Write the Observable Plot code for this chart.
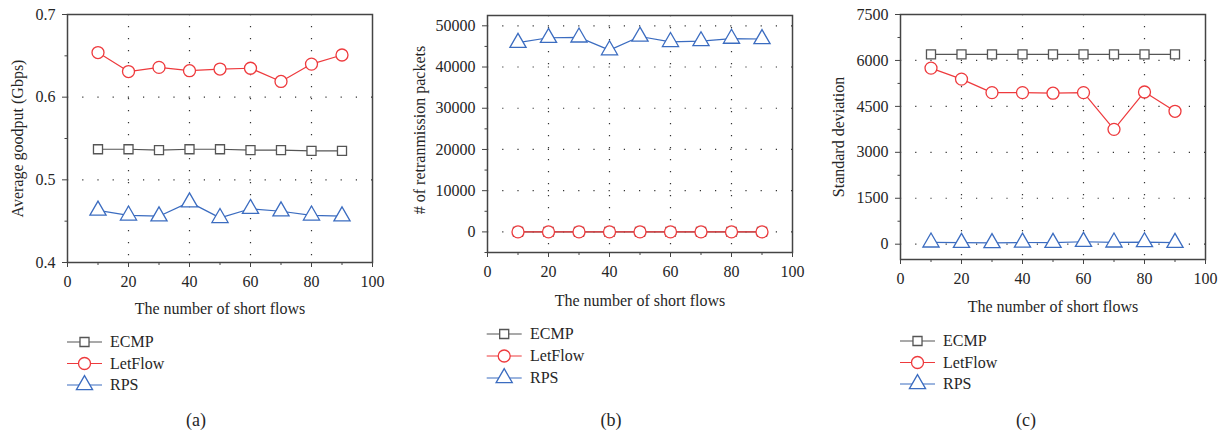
<!DOCTYPE html>
<html><head><meta charset="utf-8">
<script src="https://cdn.jsdelivr.net/npm/d3@7"></script>
<script src="https://cdn.jsdelivr.net/npm/@observablehq/plot@0.6"></script>
<style>
body{margin:0;background:#fff;}
#root{position:relative;width:1221px;height:434px;overflow:hidden;background:#fff;}
#root svg{position:absolute;overflow:visible;}
</style></head><body><div id="root"></div>
<script>
// ---- data ----
const flows = [10, 20, 30, 40, 50, 60, 70, 80, 90];
const seriesNames = ["ECMP", "LetFlow", "RPS"];

const goodputECMP    = [0.537, 0.537, 0.536, 0.537, 0.537, 0.536, 0.536, 0.535, 0.535];
const goodputLetFlow = [0.654, 0.631, 0.636, 0.632, 0.634, 0.635, 0.619, 0.640, 0.651];
const goodputRPS     = [0.463, 0.457, 0.456, 0.473, 0.454, 0.465, 0.462, 0.457, 0.456];

const retransECMP    = [0, 0, 0, 0, 0, 0, 0, 0, 0];
const retransLetFlow = [0, 0, 0, 0, 0, 0, 0, 0, 0];
const retransRPS     = [45900, 47100, 47200, 44100, 47400, 46100, 46300, 46900, 46800];

const stdECMP    = [6200, 6200, 6200, 6200, 6200, 6200, 6200, 6200, 6200];
const stdLetFlow = [5750, 5390, 4950, 4950, 4930, 4950, 3750, 4970, 4340];
const stdRPS     = [60, 50, 40, 55, 50, 80, 60, 70, 50];

const xTicks = [0, 20, 40, 60, 80, 100];
const xMinorTicks = [10, 30, 50, 70, 90];
const goodputTicks = [0.4, 0.5, 0.6, 0.7];
const goodputMinor = [0.45, 0.55, 0.65];
const retransTicks = [0, 10000, 20000, 30000, 40000, 50000];
const retransMinor = [-5000, 5000, 15000, 25000, 35000, 45000];
const stdTicks = [0, 1500, 3000, 4500, 6000, 7500];
const stdMinor = [750, 2250, 3750, 5250, 6750];

const xTitle = "The number of short flows";
const captions = ["(a)", "(b)", "(c)"];

// ---- styles ----
const FONT = '"Liberation Serif", "DejaVu Serif", serif';
const TEXT = "#262626";
const FS = 16;
const colors = ["#555555", "#ee3a3d", "#3b6cc0"];
const symbols = ["square", "circle", "triangle"];
const radii = [5.1, 6, 6];

const root = document.getElementById("root");

function panel(cfg) {
  const vals = cfg.values;
  const marks = [
    Plot.gridX([20, 40, 60, 80], {stroke: "#333", strokeOpacity: 1, strokeWidth: 1.2, strokeDasharray: "1.2,10.8"}),
    Plot.gridY(cfg.grid, {stroke: "#333", strokeOpacity: 1, strokeWidth: 1.2, strokeDasharray: "1.2,14"}),
    Plot.axisX(xMinorTicks, {tickSize: 3, tickFormat: () => "", label: null, stroke: "#444"}),
    Plot.axisX(xTicks, {tickSize: 5, tickPadding: 8, tickFormat: d => String(d), label: null, stroke: "#444", fontSize: FS, fill: TEXT}),
    Plot.axisY(cfg.minor, {tickSize: 2.5, tickFormat: () => "", label: null, stroke: "#444"}),
    Plot.axisY(cfg.ticks, {tickSize: 5, tickPadding: 7, tickFormat: cfg.format, label: null, stroke: "#444", fontSize: FS, fill: TEXT}),
    Plot.text([cfg.ylabel], {frameAnchor: "left", rotate: -90, dx: -cfg.ylabelOffset, dy: cfg.ylabelDy || 0, textAnchor: "middle", lineAnchor: "middle", fontSize: FS, fill: TEXT}),
    Plot.text([xTitle], {frameAnchor: "bottom", dy: cfg.xlabelOffset, textAnchor: "middle", lineAnchor: "middle", fontSize: FS, fill: TEXT})
  ];
  seriesNames.forEach((s, i) => {
    const rows = flows.map((f, j) => ({series: s, flows: f, value: vals[i][j]}));
    marks.push(Plot.line(rows, {x: "flows", y: "value", stroke: colors[i], strokeWidth: 1.2}));
    marks.push(Plot.dot(rows, {x: "flows", y: "value", symbol: () => symbols[i], stroke: colors[i], fill: "white", strokeWidth: 1.3, r: radii[i]}));
  });
  marks.push(Plot.frame({stroke: "#444", strokeWidth: 1.5}));
  const svg = Plot.plot({
    width: cfg.width, height: 300,
    marginLeft: cfg.ml, marginRight: cfg.mr, marginTop: cfg.mt, marginBottom: cfg.mb,
    style: {fontFamily: FONT, fontSize: FS + "px", color: TEXT, background: "transparent", overflow: "visible"},
    x: {domain: [0, 100], label: null},
    y: {domain: cfg.domain, label: null},
    symbol: {domain: symbols, range: symbols},
    marks
  });
  svg.style.left = cfg.left + "px";
  svg.style.top = "0px";
  root.appendChild(svg);
}

panel({left: 0, width: 400, ml: 67, mr: 28, mt: 14, mb: 38,
  domain: [0.4, 0.7], ticks: goodputTicks, minor: goodputMinor, grid: [0.5, 0.6],
  format: d3.format(".1f"), values: [goodputECMP, goodputLetFlow, goodputRPS],
  ylabel: "Average goodput (Gbps)", ylabelOffset: 50, xlabelOffset: 46});

panel({left: 410, width: 400, ml: 77, mr: 18, mt: 15, mb: 48,
  domain: [-5000, 52500], ticks: retransTicks, minor: retransMinor, grid: retransTicks.slice(0, 6),
  format: d => String(d), values: [retransECMP, retransLetFlow, retransRPS],
  ylabel: "# of retranmission packets", ylabelOffset: 68, ylabelDy: -4, xlabelOffset: 48});

panel({left: 820, width: 401, ml: 80, mr: 16, mt: 14, mb: 41,
  domain: [-500, 7500], ticks: stdTicks, minor: stdMinor, grid: stdTicks.slice(0, 5),
  format: d => String(d), values: [stdECMP, stdLetFlow, stdRPS],
  ylabel: "Standard deviation", ylabelOffset: 62, xlabelOffset: 47.5});

// ---- legends & captions ----
const ov = d3.select(root).append("svg")
  .attr("width", 1221).attr("height", 434)
  .style("left", "0px").style("top", "0px")
  .style("font-family", FONT);

const legends = [
  {x0: 67, rows: [342, 363.5, 385], tx: 110, cap: 196},
  {x0: 486.7, rows: [334, 356, 378], tx: 530, cap: 611},
  {x0: 900, rows: [341, 362.5, 384], tx: 943, cap: 1026}
];
const sym = {square: d3.symbolSquare, circle: d3.symbolCircle, triangle: d3.symbolTriangle};
legends.forEach((L, k) => {
  seriesNames.forEach((s, i) => {
    const y = L.rows[i];
    ov.append("line").attr("x1", L.x0).attr("x2", L.x0 + 35).attr("y1", y).attr("y2", y)
      .attr("stroke", colors[i]).attr("stroke-width", 1.2);
    ov.append("path").attr("transform", `translate(${L.x0 + 17.5},${y})`)
      .attr("d", d3.symbol(sym[symbols[i]], Math.PI * radii[i] * radii[i])())
      .attr("fill", "white").attr("stroke", colors[i]).attr("stroke-width", 1.3);
    ov.append("text").attr("x", L.tx).attr("y", y).attr("dy", "0.34em")
      .attr("font-size", FS).attr("fill", TEXT).text(s);
  });
  ov.append("text").attr("x", L.cap).attr("y", 420).attr("dy", "0.34em")
    .attr("text-anchor", "middle").attr("font-size", 18).attr("fill", TEXT).text(captions[k]);
});
</script></body></html>
